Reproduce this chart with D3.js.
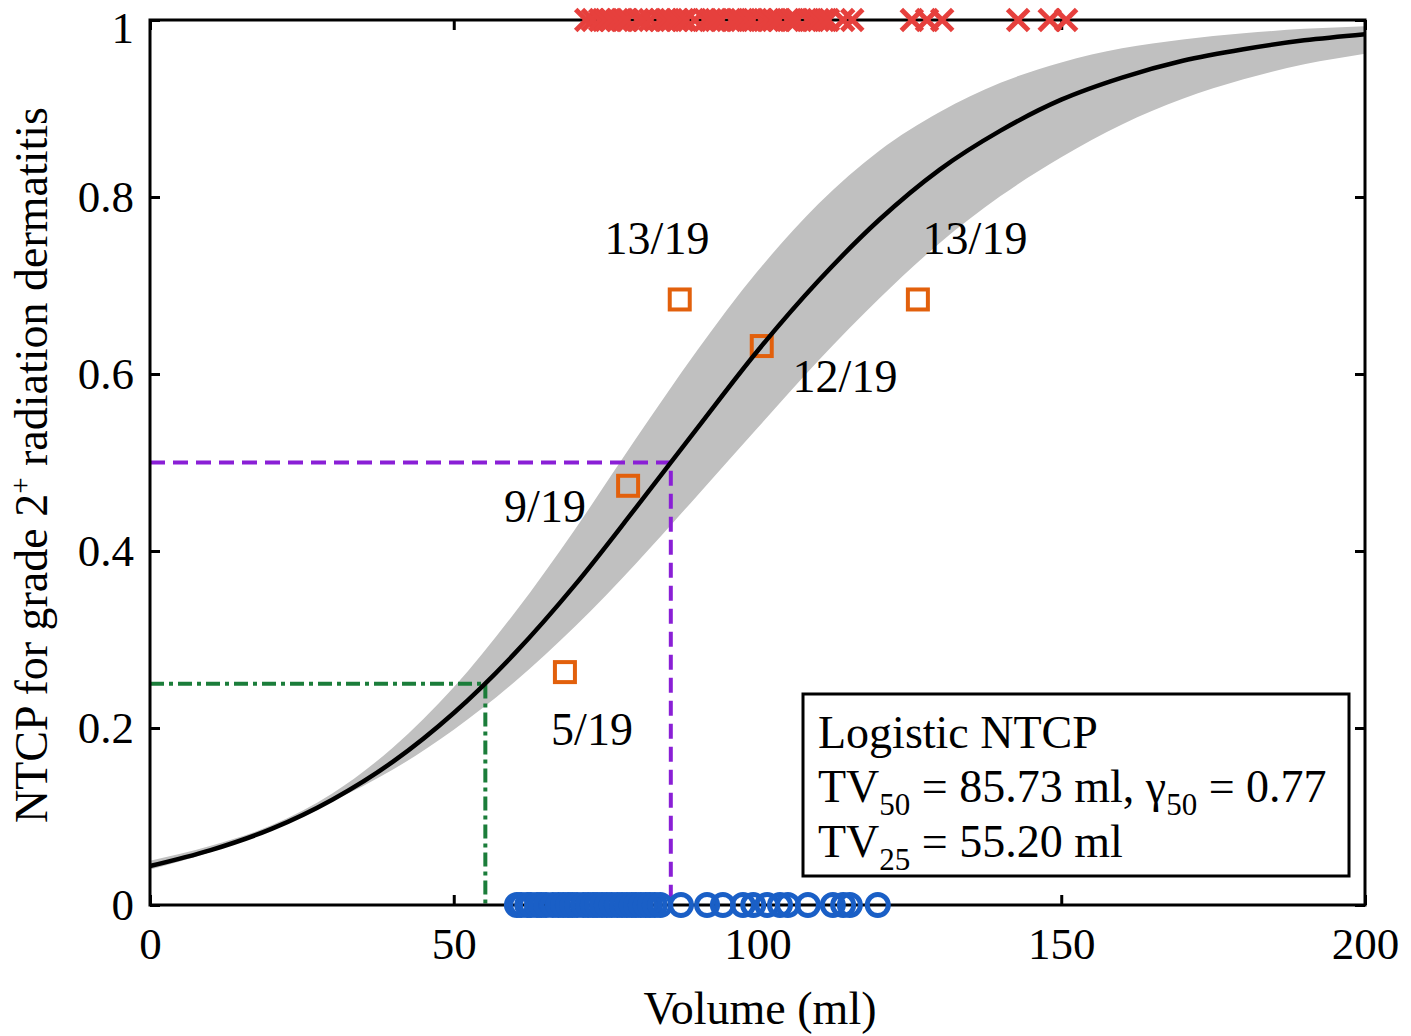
<!DOCTYPE html>
<html>
<head>
<meta charset="utf-8">
<script src="https://cdn.jsdelivr.net/npm/d3@7"></script>
<style>
  body { margin: 0; background: #fff; }
  svg text { font-family: "Liberation Serif", "Times New Roman", serif; fill: #000; }
</style>
</head>
<body>
<svg id="chart" width="1411" height="1036"></svg>
<script>
// volumes (ml) at which the curve and band were read
const volumes = [0, 10, 20, 30, 40, 50, 60, 70, 80, 90, 100, 110, 120, 130, 140, 150, 160, 170, 180, 190, 200];
// fitted NTCP curve
const ntcp = [0.044, 0.062, 0.086, 0.119, 0.162, 0.217, 0.284, 0.362, 0.449, 0.538, 0.626, 0.705, 0.774, 0.831, 0.875, 0.910, 0.935, 0.954, 0.967, 0.977, 0.984];
// confidence band edges
const bandLow = [0.040, 0.060, 0.085, 0.117, 0.153, 0.198, 0.252, 0.315, 0.386, 0.462, 0.539, 0.615, 0.685, 0.748, 0.801, 0.845, 0.882, 0.911, 0.933, 0.950, 0.962];
const bandHigh = [0.050, 0.067, 0.090, 0.126, 0.178, 0.246, 0.330, 0.425, 0.527, 0.626, 0.716, 0.792, 0.852, 0.896, 0.929, 0.952, 0.968, 0.978, 0.985, 0.990, 0.993];

// grouped observed rates
const groupVolume = [68.3, 78.7, 87.2, 100.7, 126.4];
const groupRate = [5 / 19, 9 / 19, 13 / 19, 12 / 19, 13 / 19];
const groupLabel = ["5/19", "9/19", "13/19", "12/19", "13/19"];

// patients with the complication (plotted at 1)
const eventVolumes = [71.8, 72.9, 74.1, 75.1, 75.9, 76.9, 77.7, 78.5, 80.3, 81.2, 82.3, 84.0, 84.9, 85.8,
  86.7, 87.7, 88.2, 89.7, 91.4, 92.2, 93.2, 94.0, 95.8, 96.6, 97.4, 98.3, 99.1, 100.7, 101.7, 102.6,
  103.4, 105.0, 105.8, 106.5, 108.3, 109.1, 110.0, 110.8, 111.6, 114.1, 115.6,
  125.4, 127.9, 130.4, 142.9, 148.1, 150.8];
// patients without (plotted at 0)
const noEventVolumes = [60.4, 61.1, 62.1, 62.7, 63.7, 64.4, 65.2, 66.3, 67.2, 68.0, 68.8, 69.5, 70.3,
  71.3, 72.1, 72.9, 73.6, 74.4, 75.2, 76.0, 76.9, 77.7, 78.5, 79.3, 80.0, 80.8, 81.6, 82.3, 83.1, 84.0,
  87.4, 91.7, 94.3, 97.6, 99.3, 101.6, 103.7, 105.0, 108.3, 112.4, 114.1, 115.2, 119.8];

const tv50 = 85.73;
const tv25 = 55.20;

const xTicks = [0, 50, 100, 150, 200];
const yTicks = [0, 0.2, 0.4, 0.6, 0.8, 1];

const svg = d3.select("#chart");
const x = d3.scaleLinear().domain([0, 200]).range([150, 1365]);
const y = d3.scaleLinear().domain([0, 1]).range([905, 20]);

const curveData = volumes.map((v, i) => ({ v, p: ntcp[i], lo: bandLow[i], hi: bandHigh[i] }));

// band
svg.append("path")
  .datum(curveData)
  .attr("fill", "#c0c0c0")
  .attr("d", d3.area()
    .x((d) => x(d.v))
    .y0((d) => y(d.lo))
    .y1((d) => y(d.hi))
    .curve(d3.curveMonotoneX));

// TV50 guide
svg.append("path")
  .attr("d", d3.line()([[x(0), y(0.5)], [x(tv50), y(0.5)], [x(tv50), y(0)]]))
  .attr("fill", "none")
  .attr("stroke", "#8a1fd6")
  .attr("stroke-width", 4)
  .attr("stroke-dasharray", "15,8");

// TV25 guide
svg.append("path")
  .attr("d", d3.line()([[x(0), y(0.25)], [x(tv25), y(0.25)], [x(tv25), y(0)]]))
  .attr("fill", "none")
  .attr("stroke", "#1b7d3a")
  .attr("stroke-width", 4)
  .attr("stroke-dasharray", "14,5,4,5");

// grouped squares
svg.selectAll(".grp")
  .data(groupVolume)
  .enter()
  .append("rect")
  .attr("class", "grp")
  .attr("x", (d) => x(d) - 10)
  .attr("y", (d, i) => y(groupRate[i]) - 10)
  .attr("width", 20)
  .attr("height", 20)
  .attr("fill", "none")
  .attr("stroke", "#e2600c")
  .attr("stroke-width", 4);

// fitted curve
svg.append("path")
  .datum(curveData)
  .attr("fill", "none")
  .attr("stroke", "#000")
  .attr("stroke-width", 4.5)
  .attr("d", d3.line().x((d) => x(d.v)).y((d) => y(d.p)).curve(d3.curveMonotoneX));

// group labels
const labelPos = [[592, 745], [545, 522], [657, 254], [845, 392], [975, 254]];
svg.selectAll(".grp-label")
  .data(groupLabel)
  .enter()
  .append("text")
  .attr("class", "grp-label")
  .attr("x", (d, i) => labelPos[i][0])
  .attr("y", (d, i) => labelPos[i][1])
  .attr("text-anchor", "middle")
  .style("font-size", "46px")
  .text((d) => d);

// axes (ticks inside, labels outside)
svg.append("g")
  .attr("transform", `translate(0,${y(0)})`)
  .call(d3.axisBottom(x).tickValues(xTicks).tickSize(-10).tickPadding(22).tickFormat(d3.format("d")));
svg.append("g")
  .attr("transform", `translate(${x(0)},0)`)
  .call(d3.axisLeft(y).tickValues(yTicks).tickSize(-10).tickPadding(16).tickFormat((d) => d3.format("~g")(d)));
svg.append("g")
  .attr("transform", `translate(0,${y(1)})`)
  .call(d3.axisTop(x).tickValues(xTicks).tickSize(-10).tickFormat(""));
svg.append("g")
  .attr("transform", `translate(${x(200)},0)`)
  .call(d3.axisRight(y).tickValues(yTicks).tickSize(-10).tickFormat(""));

svg.selectAll(".domain").remove();
svg.selectAll(".tick line").attr("stroke", "#000").attr("stroke-width", 3);
svg.selectAll(".tick text").style("font-size", "45px").attr("font-family", null).attr("fill", "#000");
// keep the top label inside the page
svg.selectAll(".tick text").filter((d) => d === 1).attr("dy", "0.5em");

// frame
svg.append("rect")
  .attr("x", x(0))
  .attr("y", y(1))
  .attr("width", x(200) - x(0))
  .attr("height", y(0) - y(1))
  .attr("fill", "none")
  .attr("stroke", "#000")
  .attr("stroke-width", 3);

// non-event circles on the x axis
svg.selectAll(".no-event")
  .data(noEventVolumes)
  .enter()
  .append("circle")
  .attr("class", "no-event")
  .attr("cx", (d) => x(d))
  .attr("cy", y(0))
  .attr("r", 10.5)
  .attr("fill", "none")
  .attr("stroke", "#1a5fc6")
  .attr("stroke-width", 5);

// event crosses on the top edge
const cross = (d) => {
  const cx = x(d), cy = y(1), s = 10.5;
  return `M${cx - s},${cy - s}L${cx + s},${cy + s}M${cx - s},${cy + s}L${cx + s},${cy - s}`;
};
svg.selectAll(".event")
  .data(eventVolumes)
  .enter()
  .append("path")
  .attr("class", "event")
  .attr("d", cross)
  .attr("stroke", "#e6403d")
  .attr("stroke-width", 5);

// axis titles
svg.append("text")
  .attr("x", 760)
  .attr("y", 1024)
  .attr("text-anchor", "middle")
  .style("font-size", "46px")
  .text("Volume (ml)");

const yTitle = svg.append("text")
  .attr("transform", "translate(47,465) rotate(-90)")
  .attr("text-anchor", "middle")
  .style("font-size", "46px");
yTitle.append("tspan").text("NTCP for grade 2");
yTitle.append("tspan").attr("dy", -17).style("font-size", "29px").text("+");
yTitle.append("tspan").attr("dy", 17).text(" radiation dermatitis");

// legend
const legend = svg.append("g");
legend.append("rect")
  .attr("x", 803)
  .attr("y", 694)
  .attr("width", 546)
  .attr("height", 182)
  .attr("fill", "#fff")
  .attr("stroke", "#000")
  .attr("stroke-width", 3);

const subShift = 13;
const legendLine = (yPos, parts) => {
  const t = legend.append("text").attr("x", 818).attr("y", yPos).style("font-size", "46px");
  let lowered = false;
  parts.forEach(([str, sub]) => {
    const span = t.append("tspan").text(str);
    if (sub) {
      span.attr("dy", lowered ? 0 : subShift).style("font-size", "31px");
      lowered = true;
    } else {
      span.attr("dy", lowered ? -subShift : 0);
      lowered = false;
    }
  });
};
legendLine(748, [["Logistic NTCP"]]);
legendLine(802, [["TV"], ["50", true], [" = 85.73 ml, \u03b3"], ["50", true], [" = 0.77"]]);
legendLine(857, [["TV"], ["25", true], [" = 55.20 ml"]]);
</script>
</body>
</html>
